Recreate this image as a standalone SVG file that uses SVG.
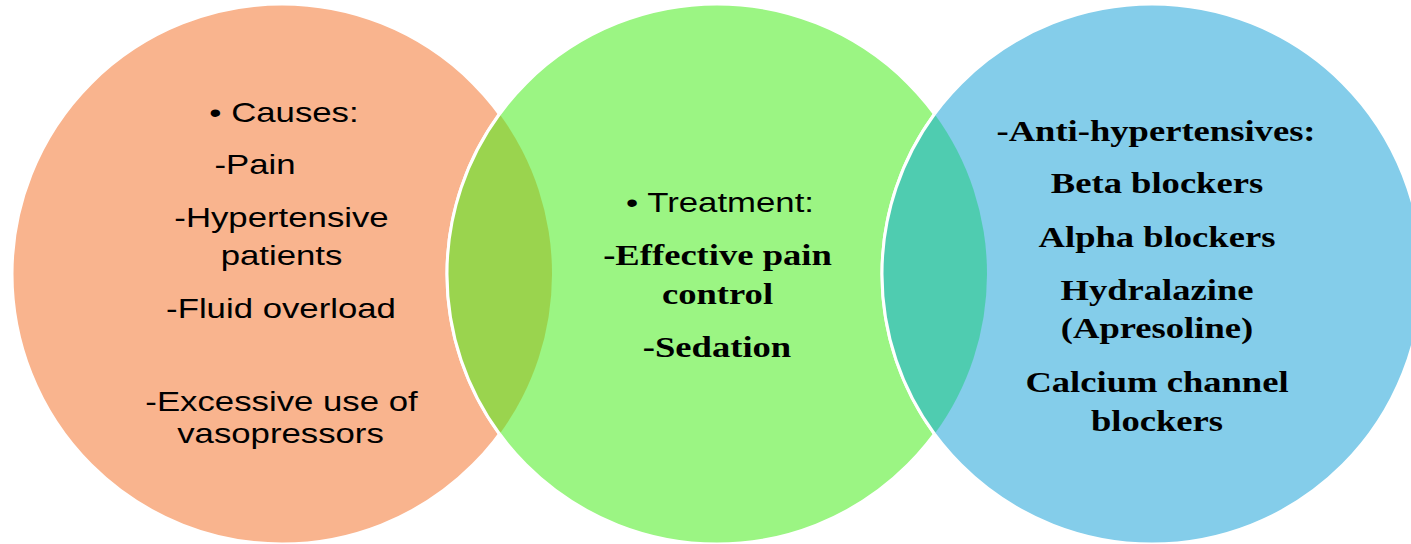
<svg xmlns="http://www.w3.org/2000/svg" width="1411" height="544" viewBox="0 0 1411 544">
  <style>
    .bg { fill: #ffffff; }
    .circle { stroke: #ffffff; stroke-width: 3; }
    .edge { fill: none; stroke: #ffffff; stroke-width: 3; }
    .sans { font-family: "Liberation Sans", Arial, sans-serif; font-size: 28.5px; fill: #000000; text-anchor: middle; }
    .serif { font-family: "Liberation Serif", "Times New Roman", serif; font-weight: bold; font-size: 30px; fill: #000000; text-anchor: middle; }
  </style>
  <rect class="bg" x="0" y="0" width="1411" height="544"/>

  <g id="causes">
    <circle class="circle" cx="282" cy="274" r="270" fill="#F9B48E"/>
  </g>
  <g id="treatment">
    <circle class="circle" cx="717" cy="274" r="270" fill="#9BF583"/>
  </g>
  <g id="antihypertensives">
    <circle class="circle" cx="1152" cy="274" r="270" fill="#84CDEA"/>
  </g>

  <g id="overlaps">
    <path id="overlap-causes-treatment" d="M 499.5 114 A 270 270 0 0 1 499.5 434 A 270 270 0 0 1 499.5 114 Z" fill="#9AD44E"/>
    <path class="edge" d="M 499.5 114 A 270 270 0 0 0 499.5 434"/>
    <path id="overlap-treatment-drugs" d="M 934.5 114 A 270 270 0 0 1 934.5 434 A 270 270 0 0 1 934.5 114 Z" fill="#4FCCB0"/>
    <path class="edge" d="M 934.5 114 A 270 270 0 0 0 934.5 434"/>
  </g>

  <g id="connectors"></g>

  <g id="causes-text">
    <text class="sans" transform="translate(284,122) scale(1.22,1)">• Causes:</text>
    <text class="sans" transform="translate(255,174) scale(1.22,1)">-Pain</text>
    <text class="sans" transform="translate(281.5,227) scale(1.22,1)">-Hypertensive</text>
    <text class="sans" transform="translate(281.5,265) scale(1.22,1)">patients</text>
    <text class="sans" transform="translate(281,318) scale(1.22,1)">-Fluid overload</text>
    <text class="sans" transform="translate(281.5,411) scale(1.22,1)">-Excessive use of</text>
    <text class="sans" transform="translate(280.5,443) scale(1.22,1)">vasopressors</text>
  </g>

  <g id="treatment-text">
    <text class="sans" transform="translate(720,212) scale(1.22,1)">• Treatment:</text>
    <text class="serif" transform="translate(717.5,265) scale(1.22,1)">-Effective pain</text>
    <text class="serif" transform="translate(717.5,304) scale(1.22,1)">control</text>
    <text class="serif" transform="translate(717,357) scale(1.22,1)">-Sedation</text>
  </g>

  <g id="antihypertensives-text">
    <text class="serif" transform="translate(1156,141) scale(1.22,1)">-Anti-hypertensives:</text>
    <text class="serif" transform="translate(1157,193) scale(1.22,1)">Beta blockers</text>
    <text class="serif" transform="translate(1157,247) scale(1.22,1)">Alpha blockers</text>
    <text class="serif" transform="translate(1157,300) scale(1.22,1)">Hydralazine</text>
    <text class="serif" transform="translate(1157,338) scale(1.22,1)">(Apresoline)</text>
    <text class="serif" transform="translate(1157,392) scale(1.22,1)">Calcium channel</text>
    <text class="serif" transform="translate(1157,431) scale(1.22,1)">blockers</text>
  </g>
</svg>
